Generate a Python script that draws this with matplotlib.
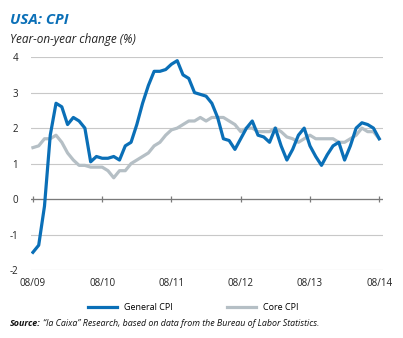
"""USA: CPI, year-on-year change"""
import matplotlib
matplotlib.use("Agg")
import matplotlib.pyplot as plt

# monthly data, Aug 2009 - Aug 2014
general_cpi = [-1.5, -1.3, -0.2, 1.8, 2.7, 2.6, 2.1, 2.3, 2.2, 2.0, 1.05, 1.2,
               1.15, 1.15, 1.2, 1.1, 1.5, 1.6, 2.1, 2.7, 3.2, 3.6, 3.6, 3.65,
               3.8, 3.9, 3.5, 3.4, 3.0, 2.95, 2.9, 2.7, 2.3, 1.7, 1.65, 1.4,
               1.7, 2.0, 2.2, 1.8, 1.75, 1.6, 2.0, 1.5, 1.1, 1.4, 1.8, 2.0,
               1.5, 1.2, 0.95, 1.25, 1.5, 1.6, 1.1, 1.5, 2.0, 2.15, 2.1, 2.0, 1.7]
core_cpi = [1.45, 1.5, 1.7, 1.7, 1.8, 1.6, 1.3, 1.1, 0.95, 0.95, 0.9, 0.9,
            0.9, 0.8, 0.6, 0.8, 0.8, 1.0, 1.1, 1.2, 1.3, 1.5, 1.6, 1.8,
            1.95, 2.0, 2.1, 2.2, 2.2, 2.3, 2.2, 2.3, 2.3, 2.3, 2.2, 2.1,
            1.9, 2.0, 2.0, 1.9, 1.9, 1.9, 2.0, 1.9, 1.75, 1.7, 1.6, 1.7,
            1.8, 1.7, 1.7, 1.7, 1.7, 1.6, 1.6, 1.7, 1.8, 2.0, 1.9, 1.9, 1.7]
months = list(range(len(general_cpi)))
year_ticks = [0, 12, 24, 36, 48, 60]
year_labels = ["08/09", "08/10", "08/11", "08/12", "08/13", "08/14"]

BLUE = "#0a6fb7"
GREY = "#b5bfc5"
FONT = ["Open Sans", "DejaVu Sans"]

plt.rcParams["font.family"] = FONT

fig = plt.figure(figsize=(4.03, 3.38), dpi=100)
ax = fig.add_axes([0.076, 0.201, 0.875, 0.630])

ax.plot(months, core_cpi, color=GREY, lw=2.3, label="Core CPI",
        solid_joinstyle="round", zorder=3)
ax.plot(months, general_cpi, color=BLUE, lw=2.3, label="General CPI",
        solid_joinstyle="round", zorder=4)

ax.set_xlim(-0.4, 60.7)
ax.set_ylim(-2, 4)
ax.set_yticks([-2, -1, 0, 1, 2, 3, 4])
ax.set_yticklabels(["-2", "-1", "0", "1", "2", "3", "4"])
ax.set_xticks(year_ticks)
ax.set_xticklabels(year_labels)
ax.tick_params(axis="both", length=0, labelsize=7, colors="#222222")
ax.tick_params(axis="y", pad=9)
ax.tick_params(axis="x", pad=6)
for s in ax.spines.values():
    s.set_visible(False)
ax.grid(axis="y", color="#c8c8c8", lw=0.8)
ax.set_axisbelow(True)

# zero line with small year ticks
ax.axhline(0, color="#7a7a7a", lw=0.9, zorder=2)
ax.plot(year_ticks, [0] * len(year_ticks), linestyle="none", marker="|",
        markersize=5, color="#7a7a7a", mew=0.9, zorder=2)

fig.text(0.025, 0.94, "USA: CPI", color=BLUE, fontsize=10.8,
         fontweight="bold", fontstyle="italic", va="center")
fig.text(0.025, 0.882, "Year-on-year change (%)", color="#222222",
         fontsize=8.5, fontstyle="italic", va="center")

handles, labels = ax.get_legend_handles_labels()
fig.legend(handles[::-1], labels[::-1], loc="center", ncol=2,
           bbox_to_anchor=(0.48, 0.089), frameon=False, fontsize=6.5,
           handlelength=3.2, columnspacing=6, handletextpad=0.8)

src = fig.text(0.025, 0.044, "Source:", fontsize=6.4, fontweight="bold",
               fontstyle="italic", va="center", color="#111111")
fig.canvas.draw()
bb = src.get_window_extent()
x_next = fig.transFigure.inverted().transform((bb.x1 + 2, 0))[0]
fig.text(x_next, 0.044,
         "\u201cla Caixa\u201d Research, based on data from the Bureau of Labor Statistics.",
         fontsize=6.4, fontstyle="italic", va="center", color="#111111")

fig.savefig("out.png", dpi=100)
